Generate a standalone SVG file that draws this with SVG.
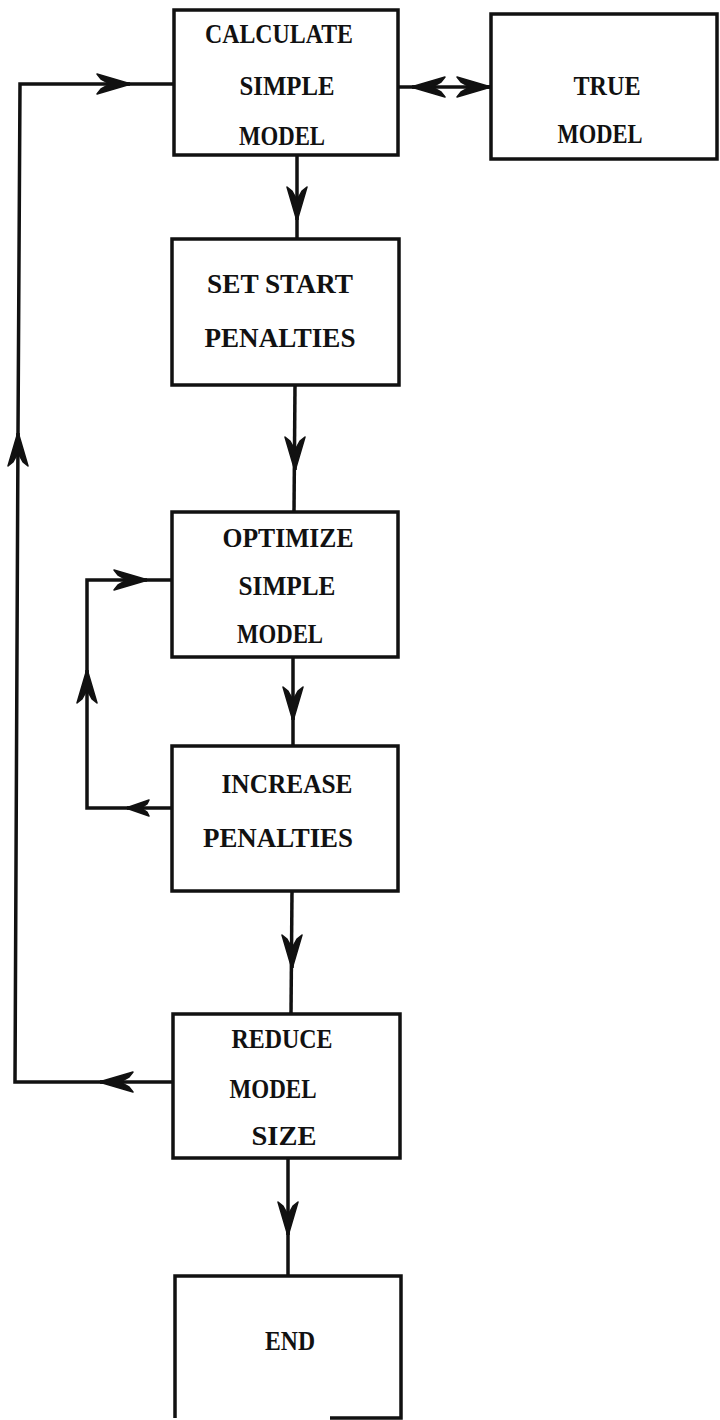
<svg xmlns="http://www.w3.org/2000/svg" width="720" height="1420" viewBox="0 0 720 1420">
<style>
.box{fill:#fff;stroke:#111;stroke-width:3.5}
.ln{fill:none;stroke:#111;stroke-width:3.5}
.ah{fill:none;stroke:#111;stroke-width:3.5}
text{font-family:"Liberation Serif","Times New Roman",serif;font-weight:bold;font-size:28px;fill:#111;text-anchor:middle}
</style>
<defs>
<marker id="arr" markerUnits="userSpaceOnUse" viewBox="-36 -12 38 24" refX="0" refY="0" markerWidth="38" markerHeight="24" orient="auto">
<path d="M1,0 L-33,-10 L-29,-5 L-20,0 L-29,5 L-33,10 Z" fill="#111" stroke="#111" stroke-width="1.5" stroke-linejoin="round"/>
</marker>
<marker id="arrs" markerUnits="userSpaceOnUse" viewBox="-36 -12 38 24" refX="0" refY="0" markerWidth="38" markerHeight="24" orient="auto">
<path d="M1,0 L-22,-8 L-20,-4 L-14,0 L-20,4 L-22,8 Z" fill="#111" stroke="#111" stroke-width="1.5" stroke-linejoin="round"/>
</marker>
</defs>
<rect width="720" height="1420" fill="#fff"/>

<g id="connectors">
<path class="ln" d="M173,1082 L15,1082 L18,433 L20,84 L174,84"/>
<path class="ah" d="M120,84 L130,84" marker-end="url(#arr)"/>
<path class="ah" d="M18,443 L18,433" marker-end="url(#arr)"/>
<path class="ah" d="M110,1082 L100,1082" marker-end="url(#arr)"/>

<path class="ln" d="M297,155 L297,239"/>
<path class="ah" d="M297,210 L297,220" marker-end="url(#arr)"/>

<path class="ln" d="M398,87 L491,87"/>
<path class="ah" d="M422,87 L412,87" marker-end="url(#arr)"/>
<path class="ah" d="M480,87 L490,87" marker-end="url(#arr)"/>

<path class="ln" d="M295,385 L294,512"/>
<path class="ah" d="M295,460 L295,470" marker-end="url(#arr)"/>

<path class="ln" d="M172,808 L87,808 L87,580 L172,580"/>
<path class="ah" d="M137,580 L147,580" marker-end="url(#arr)"/>
<path class="ah" d="M87,680 L87,670" marker-end="url(#arr)"/>
<path class="ah" d="M137,808 L127,808" marker-end="url(#arrs)"/>

<path class="ln" d="M293,657 L293,746"/>
<path class="ah" d="M293,710 L293,720" marker-end="url(#arr)"/>

<path class="ln" d="M292,891 L291,1014"/>
<path class="ah" d="M292,958 L292,968" marker-end="url(#arr)"/>

<path class="ln" d="M288,1158 L288,1276"/>
<path class="ah" d="M288,1225 L288,1235" marker-end="url(#arr)"/>
</g>

<g id="calc">
<rect class="box" x="174" y="10" width="224" height="145"/>
<text x="279" y="43" textLength="148" lengthAdjust="spacingAndGlyphs">CALCULATE</text>
<text x="287" y="95" textLength="95" lengthAdjust="spacingAndGlyphs">SIMPLE</text>
<text x="282" y="145" textLength="86" lengthAdjust="spacingAndGlyphs">MODEL</text>
</g>

<g id="true">
<rect class="box" x="491" y="14" width="226" height="145"/>
<text x="607" y="95" textLength="67" lengthAdjust="spacingAndGlyphs">TRUE</text>
<text x="600" y="143" textLength="85" lengthAdjust="spacingAndGlyphs">MODEL</text>
</g>

<g id="setstart">
<rect class="box" x="172" y="239" width="227" height="146"/>
<text x="280" y="293" textLength="146" lengthAdjust="spacingAndGlyphs">SET START</text>
<text x="280" y="347" textLength="151" lengthAdjust="spacingAndGlyphs">PENALTIES</text>
</g>

<g id="optimize">
<rect class="box" x="172" y="512" width="226" height="145"/>
<text x="288" y="547" textLength="131" lengthAdjust="spacingAndGlyphs">OPTIMIZE</text>
<text x="287" y="595" textLength="97" lengthAdjust="spacingAndGlyphs">SIMPLE</text>
<text x="280" y="643" textLength="86" lengthAdjust="spacingAndGlyphs">MODEL</text>
</g>

<g id="increase">
<rect class="box" x="172" y="746" width="226" height="145"/>
<text x="287" y="793" textLength="131" lengthAdjust="spacingAndGlyphs">INCREASE</text>
<text x="278" y="847" textLength="150" lengthAdjust="spacingAndGlyphs">PENALTIES</text>
</g>

<g id="reduce">
<rect class="box" x="173" y="1014" width="227" height="144"/>
<text x="282" y="1048" textLength="101" lengthAdjust="spacingAndGlyphs">REDUCE</text>
<text x="273" y="1098" textLength="87" lengthAdjust="spacingAndGlyphs">MODEL</text>
<text x="284" y="1145" textLength="65" lengthAdjust="spacingAndGlyphs">SIZE</text>
</g>

<g id="end">
<path class="box" d="M175,1418 L175,1276 L401,1276 L401,1418 L330,1418"/>
<text x="290" y="1350" textLength="50" lengthAdjust="spacingAndGlyphs">END</text>
</g>
</svg>
